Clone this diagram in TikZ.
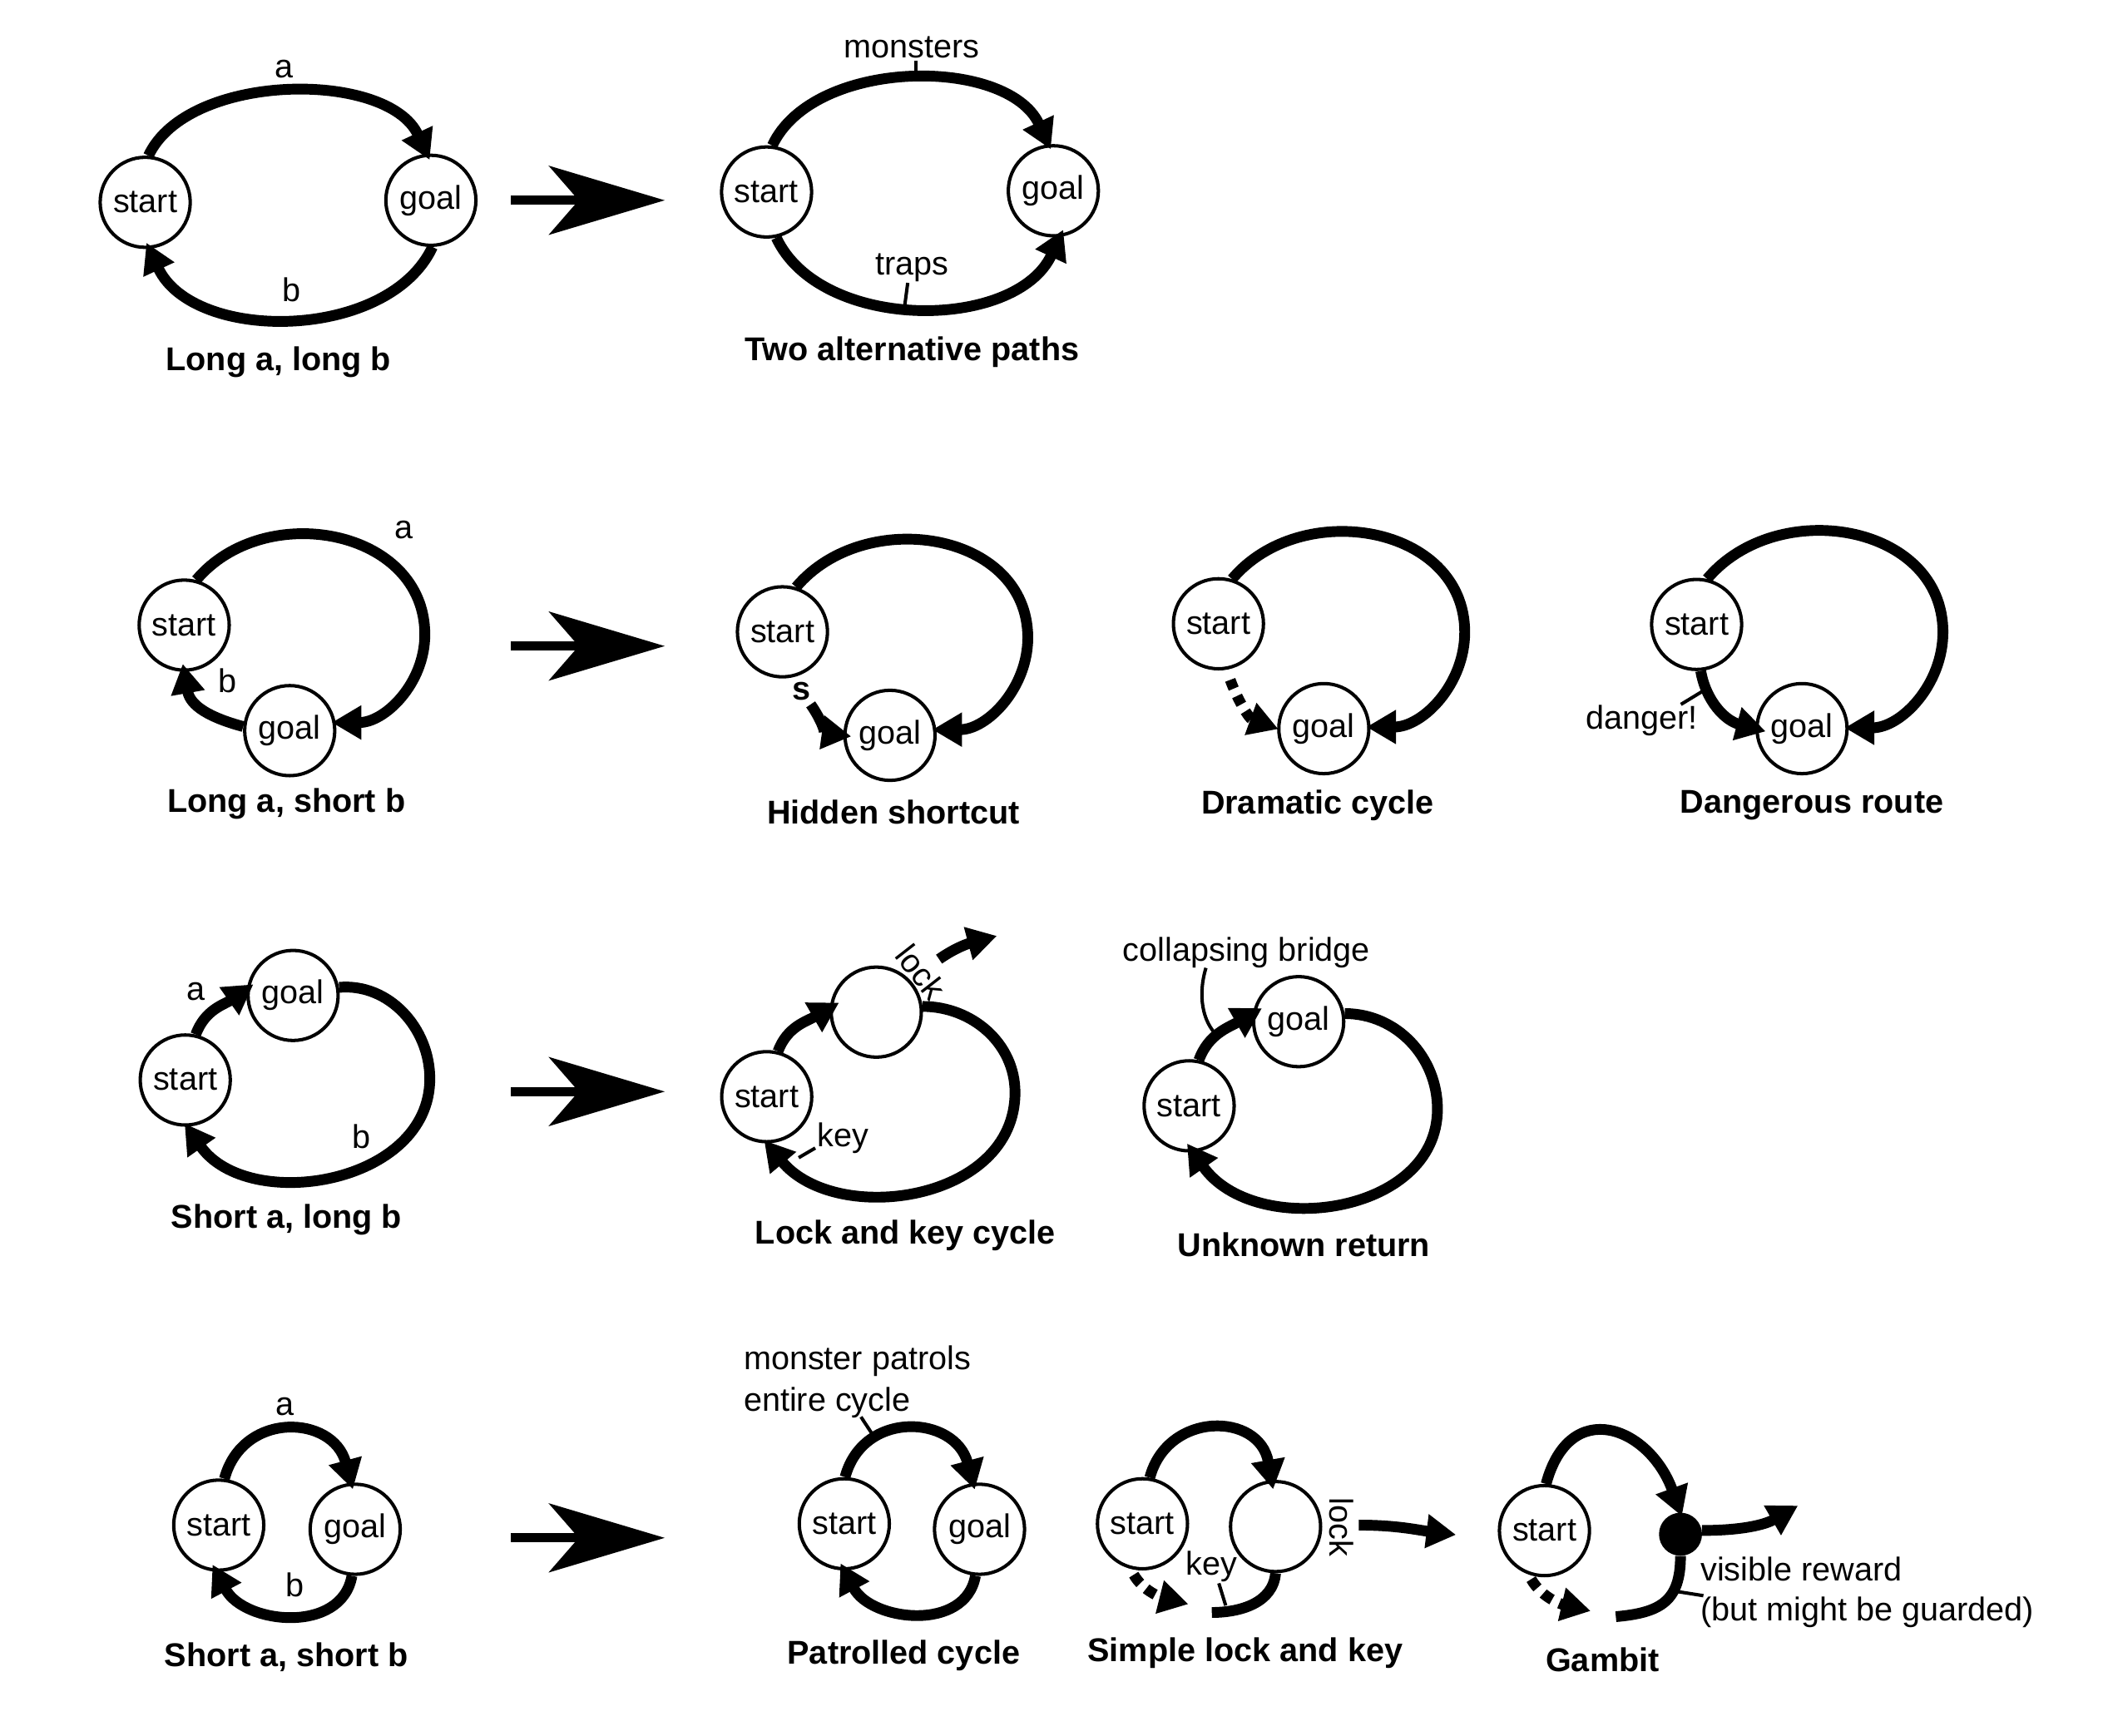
\documentclass[tikz,border=0pt]{standalone}
\usepackage{fontspec}
\setmainfont{Liberation Sans}
\usetikzlibrary{arrows.meta}
\newcommand\lblfont{\fontsize{24.5}{29}\selectfont}
\newcommand\ttlfont{\fontsize{24.5}{29}\selectfont\bfseries}
\tikzset{
  nd/.style={circle,draw,line width=2.5pt,minimum size=67pt,inner sep=0pt,font=\lblfont},
  rewarddot/.style={circle,fill=black,minimum size=32pt,inner sep=0pt},
  conn/.style={line width=8pt,-{Triangle[length=22pt,width=24pt]},shorten >=-3pt},
  freeconn/.style={line width=8pt,-{Triangle[length=22pt,width=24pt]}},
  plainconn/.style={line width=8pt},
  dashconn/.style={dash pattern=on 8pt off 6pt},
  tickline/.style={line width=2.5pt},
  lbl/.style={font=\lblfont,inner sep=0pt},
  ttl/.style={font=\ttlfont,inner sep=0pt},
  bigarrow/.style={line width=6.8pt,-{Stealth[length=86pt,width=51pt,inset=22pt]}},
}
\begin{document}
\begin{tikzpicture}[x=1pt,y=1pt]
\fill[white] (0,0) rectangle (1568,-1291);
\useasboundingbox (0,0) rectangle (1568,-1291);

% ---------- big arrows ----------
\coordinate (A1s) at (380,-149);   \coordinate (A1e) at (494.5,-149);
\coordinate (A2s) at (380,-480.6); \coordinate (A2e) at (494.5,-480.6);
\coordinate (A3s) at (380,-812);   \coordinate (A3e) at (494.5,-812);
\coordinate (A4s) at (380,-1144);  \coordinate (A4e) at (494.5,-1144);
\draw[bigarrow] (A1s) -- (A1e);
\draw[bigarrow] (A2s) -- (A2e);
\draw[bigarrow] (A3s) -- (A3e);
\draw[bigarrow] (A4s) -- (A4e);

% ---------- Panel 1: Long a, long b ----------
\node[nd] (s1) at (108,-150.5) {start};
\node[nd] (g1) at (320.5,-149) {goal};
\draw[conn,shorten >=-5pt] (s1.86) to[out=65,in=115,looseness=0.85] (g1.95);
\draw[conn,shorten >=-5pt] (g1.-88) to[out=-115,in=-65,looseness=0.94] (s1.-85);
\node[lbl] (la1) at (211.6,-51.6) {a};
\node[lbl] (lb1) at (217,-215.5) {b};
\node[ttl] (t1) at (207.2,-269.2) {Long a, long b};

% ---------- Panel 2: Two alternative paths ----------
\node[nd] (s2) at (570.2,-142.8) {start};
\node[nd] (g2) at (783.5,-141.9) {goal};
\draw[conn,shorten >=-4pt] (s2.83) to[out=65,in=115,looseness=0.9] (g2.96);
\draw[conn,shorten >=-6pt] (s2.-78) to[out=-65,in=-115,looseness=0.94] (g2.-82);
\node[lbl] (mo2) at (678.4,-35.1) {monsters};
\node[lbl] (tr2) at (678.5,-199) {traps};
\coordinate (mt2a) at (681.5,-45); \coordinate (mt2b) at (681.5,-59);
\coordinate (tt2a) at (675.2,-210.4); \coordinate (tt2b) at (673,-227);
\draw[tickline] (mt2a) -- (mt2b);
\draw[tickline] (tt2a) -- (tt2b);
\node[ttl] (t2) at (678.4,-262) {Two alternative paths};

% ---------- Panel 3: Long a, short b ----------
\node[nd] (s3) at (137,-465) {start};
\node[nd] (g3) at (215.5,-543.5) {goal};
\coordinate (R3) at (316,-472);
\draw[conn] (s3.75) to[out=50,in=90,looseness=1.15] (R3) to[out=-90,in=0] (g3.10);
\draw[conn,shorten >=-6pt] (g3.175) to[out=165,in=-80,looseness=1.1] (s3.-90);
\node[lbl] (la3) at (300.2,-394) {a};
\node[lbl] (lb3) at (169.3,-506.4) {b};
\node[ttl] (t3) at (213,-598) {Long a, short b};

% ---------- Panel 4: Hidden shortcut ----------
\node[nd] (s4) at (582,-470) {start};
\node[nd] (g4) at (662,-547) {goal};
\coordinate (R4) at (764.5,-474.4);
\coordinate (hs4) at (603,-524);
\draw[conn] (s4.73) to[out=50,in=90,looseness=1.15] (R4) to[out=-90,in=0] (g4.7);
\draw[conn,shorten >=-6pt] (hs4) to[out=-55,in=172] (g4.180);
\node[lbl,font=\ttlfont] (ls4) at (596,-514.5) {s};
\node[ttl] (t4) at (664.5,-604.4) {Hidden shortcut};

% ---------- Panel 5: Dramatic cycle ----------
\node[nd] (s5) at (906.3,-464) {start};
\node[nd] (g5) at (984.7,-542) {goal};
\coordinate (R5) at (1089.5,-470.3);
\draw[conn] (s5.73) to[out=50,in=90,looseness=1.15] (R5) to[out=-90,in=0] (g5.2);
\draw[conn,dash pattern=on 7pt off 6pt,shorten <=8pt,shorten >=-1pt] (s5.-80) to[out=-70,in=160] (g5.180);
\node[ttl] (t5) at (980,-599.2) {Dramatic cycle};

% ---------- Panel 6: Dangerous route ----------
\node[nd] (s6) at (1262,-464.5) {start};
\node[nd] (g6) at (1340.4,-542) {goal};
\coordinate (R6) at (1445.2,-470.3);
\draw[conn] (s6.77) to[out=50,in=90,looseness=1.15] (R6) to[out=-90,in=0] (g6.1);
\draw[conn,shorten >=-8pt] (s6.-85) to[out=-80,in=165] (g6.180);
\coordinate (dt6a) at (1267.4,-513.6); \coordinate (dt6b) at (1250.3,-524);
\draw[tickline] (dt6a) -- (dt6b);
\node[lbl] (dg6) at (1221,-536.3) {danger!};
\node[ttl] (t6) at (1347.7,-599.2) {Dangerous route};

% ---------- Panel 7: Short a, long b ----------
\node[nd] (g7) at (218,-740.5) {goal};
\node[nd] (s7) at (137.8,-803.4) {start};
\coordinate (R7) at (319.7,-802.4);
\draw[conn,shorten >=-6pt] (s7.77) to[out=70,in=-145] (g7.172);
\draw[conn] (g7.10) to[out=5,in=90] (R7) to[out=-90,in=-55,looseness=1.1] (s7.-88);
\node[lbl] (la7) at (145.7,-737.4) {a};
\node[lbl] (lb7) at (268.6,-845.7) {b};
\node[ttl] (t7) at (213.1,-907.6) {Short a, long b};

% ---------- Panel 8: Lock and key cycle ----------
\node[nd] (e8) at (651.8,-752.9) {};
\node[nd] (s8) at (570.3,-815.8) {start};
\coordinate (R8) at (755,-812.7);
\draw[conn,shorten >=-8pt] (s8.76) to[out=70,in=-150] (e8.175);
\draw[conn] (e8.7) to[out=0,in=90] (R8) to[out=-90,in=-50,looseness=1.1] (s8.-90);
\coordinate (lk8a) at (698.5,-713.5); \coordinate (lk8b) at (741.5,-696.2);
\draw[freeconn] (lk8a) to[out=35,in=195] (lk8b);
\node[lbl,rotate=-52] (ll8) at (685,-723) {lock};
\node[lbl] (lkey8) at (627.1,-846.7) {key};
\coordinate (kt8a) at (606.4,-854); \coordinate (kt8b) at (594.1,-861.2);
\draw[tickline] (kt8a) -- (kt8b);
\node[ttl] (t8) at (673.5,-919) {Lock and key cycle};

% ---------- Panel 9: Unknown return ----------
\node[nd] (g9) at (966,-760) {goal};
\node[nd] (s9) at (884.5,-822.6) {start};
\coordinate (R9) at (1069.2,-825);
\draw[conn,shorten >=-8pt] (s9.78) to[out=70,in=-150] (g9.170);
\draw[conn,shorten >=-8pt] (g9.10) to[out=0,in=90] (R9) to[out=-90,in=-55,looseness=1.1] (s9.-85);
\node[lbl] (cb9) at (927.2,-708.5) {collapsing bridge};
\coordinate (cb9a) at (897,-720); \coordinate (cb9b) at (906,-771);
\draw[tickline] (cb9a) .. controls (891,-740) and (894,-760) .. (cb9b);
\node[ttl] (t9) at (969.8,-926.2) {Unknown return};

% ---------- Panel 10: Short a, short b ----------
\node[nd] (s10) at (162.7,-1134.5) {start};
\node[nd] (g10) at (264.2,-1137.6) {goal};
\draw[conn,shorten >=-5pt] (s10.83) to[out=75,in=105,looseness=1.42] (g10.95);
\draw[conn,shorten >=-6pt] (g10.-94) to[out=-100,in=-62,looseness=1.12] (s10.-93);
\node[lbl] (la10) at (211.9,-1046.5) {a};
\node[lbl] (lb10) at (219.6,-1178.8) {b};
\node[ttl] (t10) at (213,-1232.5) {Short a, short b};

% ---------- Panel 11: Patrolled cycle ----------
\node[nd] (s11) at (628,-1133.5) {start};
\node[nd] (g11) at (728.6,-1137.6) {goal};
\draw[conn,shorten >=-5pt] (s11.89) to[out=75,in=105,looseness=1.4] (g11.98);
\draw[conn,shorten >=-6pt] (g11.-95) to[out=-100,in=-62,looseness=1.12] (s11.-90);
\node[lbl,anchor=base west] (mp11a) at (553,-1019) {monster patrols};
\node[lbl,anchor=base west] (mp11b) at (553,-1050) {entire cycle};
\coordinate (mt11a) at (640.4,-1054); \coordinate (mt11b) at (650.6,-1069.5);
\draw[tickline] (mt11a) -- (mt11b);
\node[ttl] (t11) at (672.2,-1231.4) {Patrolled cycle};

% ---------- Panel 12: Simple lock and key ----------
\node[nd] (s12) at (849.8,-1133.5) {start};
\node[nd] (e12) at (948.8,-1135.6) {};
\draw[conn,shorten >=-7pt] (s12.81) to[out=75,in=100,looseness=1.45] (e12.95);
\coordinate (dk12) at (884,-1193.3);
\draw[freeconn,dashconn,shorten <=5pt] (s12.-105) to[out=-60,in=166] (dk12);
\coordinate (kk12) at (901.4,-1199.5);
\draw[plainconn] (e12.-90) to[out=-95,in=0] (kk12);
\node[lbl] (lkey12) at (901.4,-1165.4) {key};
\coordinate (kt12a) at (906.6,-1177.8); \coordinate (kt12b) at (911.7,-1194.3);
\draw[tickline] (kt12a) -- (kt12b);
\node[lbl,rotate=-90] (ll12) at (997.7,-1136) {lock};
\coordinate (la12) at (1010.7,-1134.5); \coordinate (lb12) at (1083,-1141.7);
\draw[freeconn] (la12) to[out=0,in=173] (lb12);
\node[ttl] (t12) at (926.2,-1229.4) {Simple lock and key};

% ---------- Panel 13: Gambit ----------
\node[nd] (s13) at (1148.8,-1138.6) {start};
\node[rewarddot] (b13) at (1250,-1141.3) {};
\draw[conn] (s13.88) to[out=75,in=110,looseness=1.7] (b13.90);
\coordinate (xa13) at (1337.4,-1120);
\draw[freeconn] (b13.10) to[out=0,in=-150] (xa13);
\coordinate (dg13) at (1183.2,-1198.4);
\draw[freeconn,dashconn,shorten <=4pt] (s13.-110) to[out=-60,in=167] (dg13);
\coordinate (le13) at (1201.9,-1202.6);
\draw[plainconn] (b13.-90) to[out=-90,in=5,looseness=1.3] (le13);
\coordinate (vt13a) at (1248,-1184); \coordinate (vt13b) at (1267,-1187);
\draw[tickline] (vt13a) -- (vt13b);
\node[lbl,anchor=base west] (vr13a) at (1264.8,-1175.7) {visible reward};
\node[lbl,anchor=base west] (vr13b) at (1264.8,-1205.7) {(but might be guarded)};
\node[ttl] (t13) at (1192,-1234.5) {Gambit};
\end{tikzpicture}
\end{document}
